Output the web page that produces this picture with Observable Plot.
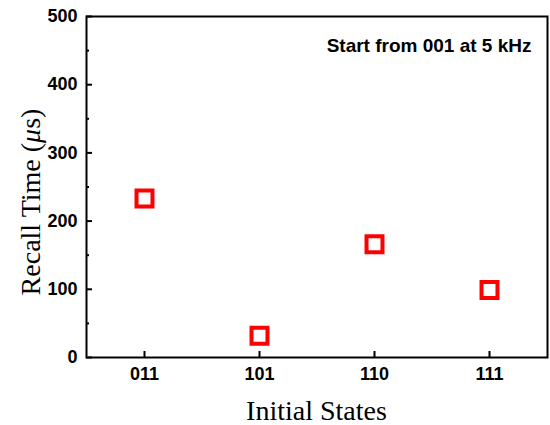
<!DOCTYPE html>
<html>
<head>
<meta charset="utf-8">
<script src="https://cdn.jsdelivr.net/npm/d3@7"></script>
<script src="https://cdn.jsdelivr.net/npm/@observablehq/plot@0.6"></script>
<style>
  html, body { margin: 0; padding: 0; background: #fff; }
</style>
</head>
<body>
<div id="chart"></div>
<script>
const states = ["011", "101", "110", "111"];
const recallTimes = [233, 32, 166, 99];
const yMajorTicks = [0, 100, 200, 300, 400, 500];
const yMinorTicks = [50, 150, 250, 350, 450];
const annotation = "Start from 001 at 5 kHz";

const data = states.map((s, i) => ({state: s, t: recallTimes[i]}));

const W = 550, H = 425;
const mL = 86, mR = 3, mT = 16, mB = 68;
const sans = "Liberation Sans, Arial, sans-serif";
const serif = "Liberation Serif, Times New Roman, serif";

const chart = Plot.plot({
  width: W,
  height: H,
  marginLeft: mL,
  marginRight: mR,
  marginTop: mT,
  marginBottom: mB,
  style: {background: "#fff", color: "#000"},
  x: {type: "point", domain: states, padding: 0.5, label: null},
  y: {domain: [0, 500], label: null},
  marks: [
    Plot.frame({stroke: "#000", strokeWidth: 2}),
    Plot.axisY(yMajorTicks, {
      tickSize: -6, tickPadding: 15, strokeWidth: 2,
      fontSize: 18, fontWeight: "bold", fontFamily: sans,
      tickFormat: d => String(d)
    }),
    Plot.axisY(yMinorTicks, {tickSize: -3, strokeWidth: 2, tickFormat: () => ""}),
    Plot.axisX(states, {
      tickSize: -6, tickPadding: 16, strokeWidth: 2,
      fontSize: 18, fontWeight: "bold", fontFamily: sans
    }),
    Plot.dot(data, {
      x: "state", y: "t", symbol: "square", r: 9,
      stroke: "#ff0000", strokeWidth: 4, fill: "none"
    }),
    Plot.text([annotation], {
      frameAnchor: "top-right", dx: -16, dy: 22,
      fontSize: 19, fontWeight: "bold", fontFamily: sans,
      fill: "#000", textAnchor: "end"
    })
  ]
});

const svg = d3.select(chart);
svg.style("overflow", "visible");

// Y axis title with italic mu
const yt = svg.append("text")
  .attr("transform", `translate(40, 202) rotate(-90)`)
  .attr("text-anchor", "middle")
  .attr("font-family", serif)
  .attr("font-size", 28)
  .attr("fill", "#000");
yt.append("tspan").text("Recall Time (");
yt.append("tspan").attr("font-style", "italic").text("μ");
yt.append("tspan").text("s)");

// X axis title
svg.append("text")
  .attr("x", (mL + W - mR) / 2)
  .attr("y", 420)
  .attr("text-anchor", "middle")
  .attr("font-family", serif)
  .attr("font-size", 28)
  .attr("fill", "#000")
  .text("Initial States");

document.getElementById("chart").appendChild(chart);
</script>
</body>
</html>
